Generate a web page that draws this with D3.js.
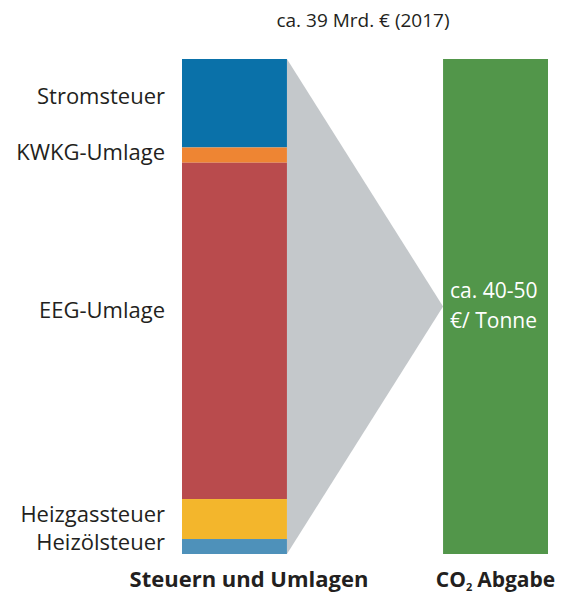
<!DOCTYPE html>
<html>
<head>
<meta charset="utf-8">
<script src="https://cdn.jsdelivr.net/npm/d3@7"></script>
<style>
  body { margin: 0; background: #fff; }
  text { font-family: "Open Sans", "Noto Sans", sans-serif; fill: #231f20; }
</style>
</head>
<body>
<div id="chart"></div>
<script>
// Data (Mrd. Euro, 2017)
var categories = ["Stromsteuer", "KWKG-Umlage", "EEG-Umlage", "Heizgassteuer", "Heizölsteuer"];
var values = [6.97, 1.2, 26.5, 3.15, 1.18];
var colors = ["#0a71a9", "#ee8533", "#b94b4d", "#f3b62c", "#4e91ba"];
var columns = ["Steuern und Umlagen", "CO2 Abgabe"];
var total = 39;
var totalLabel = "ca. 39 Mrd. € (2017)";
var co2Label = ["ca. 40-50", "€/ Tonne"];

var svgWidth = 569;
var svgHeight = 594;

var svg = d3.select("#chart")
    .append("svg")
    .attr("width", svgWidth)
    .attr("height", svgHeight);

// scales
var x = d3.scaleBand()
    .domain(columns)
    .range([182, 548])
    .paddingInner(0.598)
    .paddingOuter(0);

var y = d3.scaleLinear()
    .domain([0, total])
    .range([554, 59]);

// stack the segments top-down
var segs = [];
var cursor = total;
values.forEach(function (v, i) {
    segs.push({ name: categories[i], y0: cursor - v, y1: cursor, color: colors[i] });
    cursor -= v;
});

var leftX = x(columns[0]);
var rightX = x(columns[1]);
var bw = x.bandwidth();

// grey funnel
svg.append("polygon")
    .attr("points", [
        [leftX + bw, y(total)],
        [rightX, y(total / 2)],
        [leftX + bw, y(0)]
    ].map(function (p) { return p.join(","); }).join(" "))
    .attr("fill", "#c4c8cb");

// stacked bar
svg.selectAll("rect.seg")
    .data(segs)
    .enter()
    .append("rect")
    .attr("class", "seg")
    .attr("x", leftX)
    .attr("width", bw)
    .attr("y", d => y(d.y1))
    .attr("height", d => y(d.y0) - y(d.y1))
    .attr("fill", d => d.color);

// green bar
svg.append("rect")
    .attr("x", rightX)
    .attr("width", bw)
    .attr("y", y(total))
    .attr("height", y(0) - y(total))
    .attr("fill", "#52964a");

// segment labels (small nudges so they don't collide)
var labelDy = [-6, -2, -20, -4, -4];
svg.selectAll("text.seglabel")
    .data(segs)
    .enter()
    .append("text")
    .attr("class", "seglabel")
    .attr("x", leftX - 17)
    .attr("y", (d, i) => (y(d.y0) + y(d.y1)) / 2 + labelDy[i] + 7)
    .attr("text-anchor", "end")
    .attr("font-size", "22px")
    .text(d => d.name);

// total label on top
svg.append("text")
    .attr("x", 363)
    .attr("y", 27)
    .attr("text-anchor", "middle")
    .attr("font-size", "19px")
    .text(totalLabel);

// text inside green bar
svg.selectAll("text.co2")
    .data(co2Label)
    .enter()
    .append("text")
    .attr("class", "co2")
    .attr("x", rightX + 7)
    .attr("y", (d, i) => 298 + i * 30)
    .attr("font-size", "21px")
    .style("fill", "#fff")
    .text(d => d);

// column titles
svg.append("text")
    .attr("x", 249)
    .attr("y", 587)
    .attr("text-anchor", "middle")
    .attr("font-size", "22px")
    .attr("font-weight", "bold")
    .text(columns[0]);

var co2 = svg.append("text")
    .attr("x", rightX + bw / 2)
    .attr("y", 587)
    .attr("text-anchor", "middle")
    .attr("font-size", "21px")
    .attr("font-weight", "bold");
co2.append("tspan").text("CO");
co2.append("tspan").attr("font-size", "11px").attr("dy", 4).text("2");
co2.append("tspan").attr("dy", -4).attr("dx", 5).text("Abgabe");
</script>
</body>
</html>
